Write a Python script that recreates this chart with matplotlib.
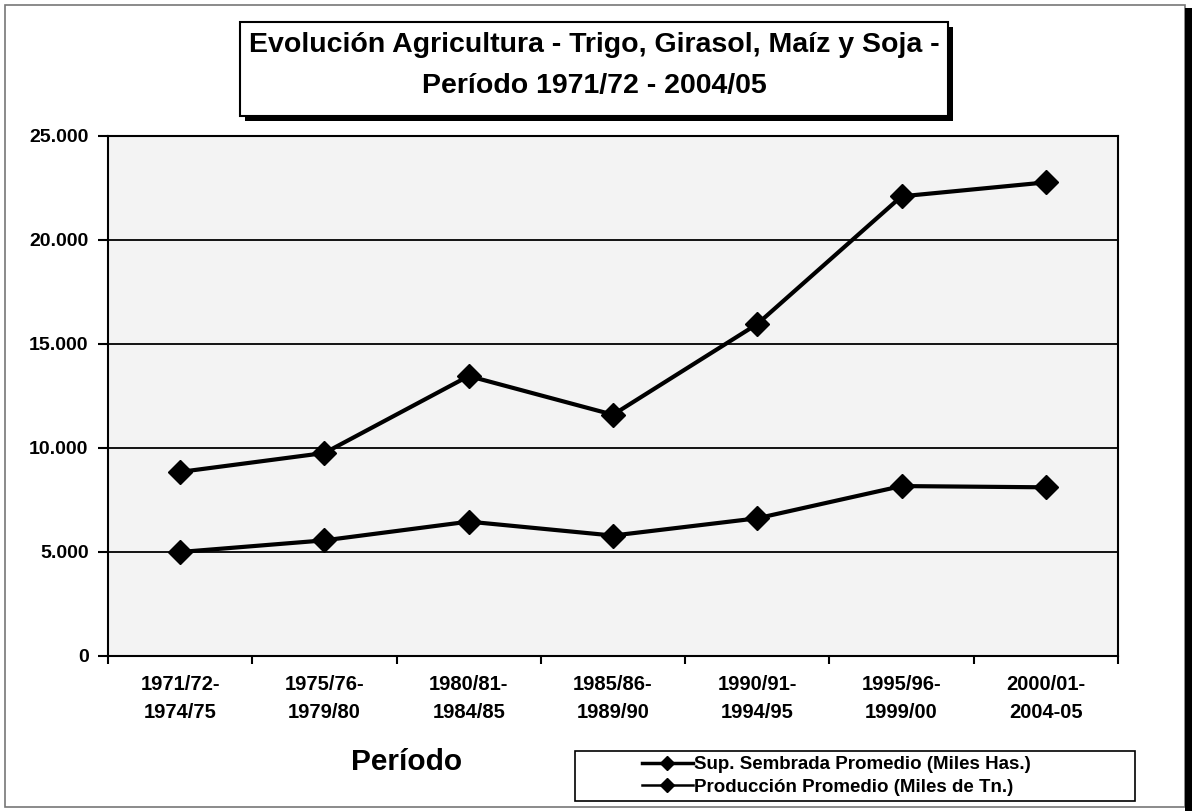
import numpy as np
import matplotlib.pyplot as plt
from matplotlib.patches import Rectangle
from matplotlib.lines import Line2D

plt.rcParams['font.family'] = ['Liberation Sans', 'DejaVu Sans']
plt.rcParams['font.weight'] = 'bold'

# data
periodos = ['1971/72-\n1974/75', '1975/76-\n1979/80', '1980/81-\n1984/85', '1985/86-\n1989/90',
            '1990/91-\n1994/95', '1995/96-\n1999/00', '2000/01-\n2004-05']
sup_sembrada = [8850, 9760, 13460, 11600, 15960, 22100, 22770]
produccion = [5000, 5560, 6460, 5790, 6620, 8170, 8110]
y_ticks = [0, 5000, 10000, 15000, 20000, 25000]
y_labels = ['0', '5.000', '10.000', '15.000', '20.000', '25.000']
titulo = 'Evolución Agricultura - Trigo, Girasol, Maíz y Soja -\nPeríodo 1971/72 - 2004/05'
nombres = ['Sup. Sembrada Promedio (Miles Has.)', 'Producción Promedio (Miles de Tn.)']

W, H = 1192, 811
def fx(px):
    return px / W
def fy(py):
    return 1 - py / H

fig = plt.figure(figsize=(W / 100, H / 100), dpi=100)
fig.patch.set_facecolor('white')

# outer frame + shadow bar on the right
fig.add_artist(Rectangle((fx(5), fy(807)), fx(1185) - fx(5), fy(5) - fy(807),
                         transform=fig.transFigure, fill=False, edgecolor='#777777', lw=1.2))
fig.add_artist(Rectangle((fx(1185), fy(811)), fx(1192) - fx(1185), fy(8) - fy(811),
                         transform=fig.transFigure, facecolor='black', edgecolor='none'))

ax = fig.add_axes([fx(108), fy(656), fx(1118) - fx(108), fy(136) - fy(656)])
ax.set_facecolor('#f3f3f3')

x = np.arange(len(periodos))
ax.plot(x, sup_sembrada, color='black', lw=3, marker='D', ms=12, zorder=3)
ax.plot(x, produccion, color='black', lw=3, marker='D', ms=12, zorder=3)

ax.set_xlim(-0.5, len(periodos) - 0.5)
ax.set_ylim(0, 25000)
ax.set_yticks(y_ticks)
ax.set_yticklabels(y_labels, fontsize=14, fontweight='bold')
ax.tick_params(axis='y', length=7, width=1.5, pad=7)
ax.grid(axis='y', color='black', lw=1.3)
ax.set_axisbelow(True)

ax.set_xticks(x)
ax.set_xticklabels(periodos, fontsize=14.5, fontweight='bold', linespacing=1.6)
ax.tick_params(axis='x', which='major', length=0, pad=14)
ax.set_xticks(np.arange(len(periodos) + 1) - 0.5, minor=True)
ax.tick_params(axis='x', which='minor', length=6, width=1.5)

for s in ax.spines.values():
    s.set_linewidth(1.5)
    s.set_color('black')

# title box with shadow
tb = (240, 22, 948, 116)
fig.add_artist(Rectangle((fx(tb[0] + 5), fy(tb[3] + 5)), fx(tb[2]) - fx(tb[0]), fy(tb[1]) - fy(tb[3]),
                         transform=fig.transFigure, facecolor='black', edgecolor='none'))
fig.add_artist(Rectangle((fx(tb[0]), fy(tb[3])), fx(tb[2]) - fx(tb[0]), fy(tb[1]) - fy(tb[3]),
                         transform=fig.transFigure, facecolor='white', edgecolor='black', lw=1.5))
fig.text(fx((tb[0] + tb[2]) / 2), fy(66), titulo, ha='center', va='center',
         fontsize=20.5, fontweight='bold', linespacing=1.75)

fig.text(fx(407), fy(762), 'Período', ha='center', va='center', fontsize=21.5, fontweight='bold')

# legend: frame drawn as its own box, entries inside
fig.add_artist(Rectangle((fx(575), fy(801)), fx(1135) - fx(575), fy(751) - fy(801),
                         transform=fig.transFigure, facecolor='white', edgecolor='black', lw=1.2))
handles = [Line2D([], [], color='black', lw=2.5, marker='D', ms=7),
           Line2D([], [], color='black', lw=1.8, marker='D', ms=7)]
leg = fig.legend(handles, nombres, loc='center left', bbox_to_anchor=(fx(642), fy(776)),
                 fontsize=13.5, frameon=False, handlelength=2.7, handletextpad=0.05,
                 borderpad=0, labelspacing=0.3, borderaxespad=0)
for t in leg.get_texts():
    t.set_fontweight('bold')

fig.savefig('out.png', dpi=100, facecolor='white')
